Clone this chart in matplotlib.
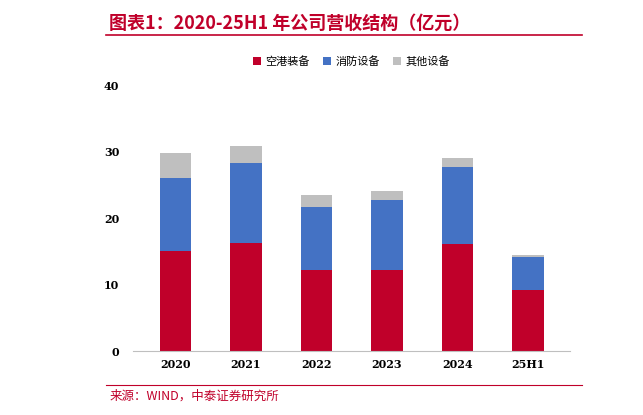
import matplotlib
matplotlib.use("Agg")
import matplotlib.pyplot as plt
from matplotlib.lines import Line2D

plt.rcParams['font.family'] = ['Noto Sans CJK SC', 'DejaVu Sans']

years = ["2020", "2021", "2022", "2023", "2024", "25H1"]
airport = [15.0, 16.2, 12.2, 12.2, 16.1, 9.2]
fire = [11.0, 12.1, 9.5, 10.5, 11.6, 4.9]
other = [3.8, 2.5, 1.8, 1.4, 1.3, 0.3]
names = ["空港装备", "消防设备", "其他设备"]
colors = ["#C0002A", "#4472C4", "#BFBFBF"]

fig = plt.figure(figsize=(6.43, 4.15), dpi=100)
ax = fig.add_axes([0.207, 0.154, 0.68, 0.641])
x = range(len(years))
b1 = [a + f for a, f in zip(airport, fire)]
ax.bar(x, airport, 0.45, color=colors[0], label=names[0])
ax.bar(x, fire, 0.45, bottom=airport, color=colors[1], label=names[1])
ax.bar(x, other, 0.45, bottom=b1, color=colors[2], label=names[2])
ax.set_ylim(0, 40)
ax.set_xlim(-0.6, 5.6)
ax.set_yticks([0, 10, 20, 30, 40])
ax.set_xticks(list(x))
ax.set_xticklabels(years, fontfamily='DejaVu Serif', fontweight='bold', fontsize=8)
for t in ax.get_yticklabels():
    t.set_fontfamily('DejaVu Serif'); t.set_fontweight('bold'); t.set_fontsize(8)
for s in ["top", "right", "left"]:
    ax.spines[s].set_visible(False)
ax.spines["bottom"].set_color("#BFBFBF")
ax.tick_params(axis='y', length=0, pad=10)
ax.tick_params(axis='x', length=0, pad=6)
ax.legend(loc='lower center', bbox_to_anchor=(0.5, 1.03), ncol=3, frameon=False,
          fontsize=8, handlelength=0.7, handleheight=0.7, columnspacing=1.2, handletextpad=0.4)

fig.text(0.17, 0.945, "图表1：2020-25H1 年公司营收结构（亿元）", color="#C0002A",
         fontsize=13, fontweight='bold', style='italic', va='center')
fig.add_artist(Line2D([0.165, 0.905], [0.915, 0.915], color="#C0002A", lw=1.2))
fig.add_artist(Line2D([0.165, 0.905], [0.072, 0.072], color="#C0002A", lw=0.8))
fig.text(0.17, 0.045, "来源：WIND，中泰证券研究所", color="#C0002A", fontsize=9, va='center', style='italic')
fig.savefig("out.png", dpi=100)
